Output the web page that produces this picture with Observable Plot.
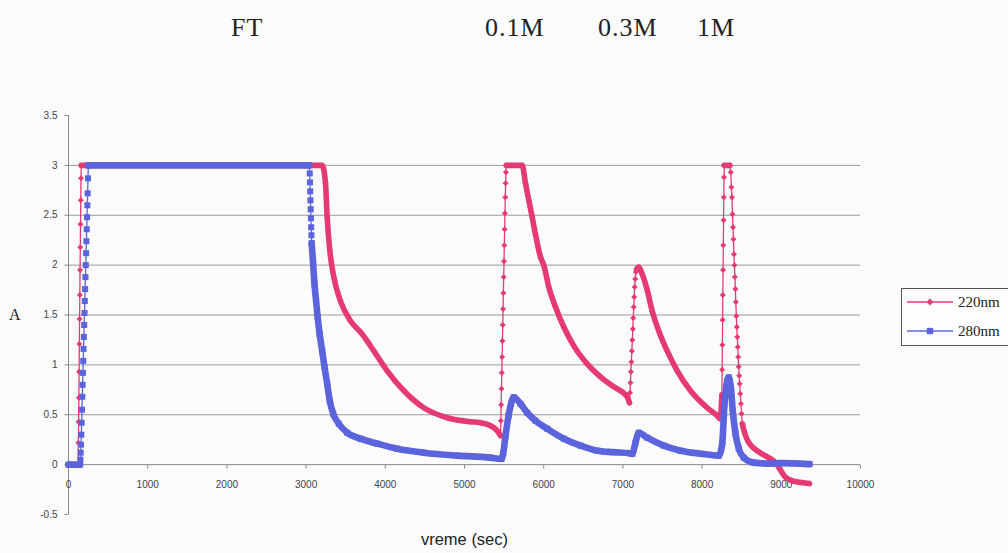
<!DOCTYPE html>
<html><head><meta charset="utf-8">
<script src="https://cdn.jsdelivr.net/npm/d3@7"></script>
<script src="https://cdn.jsdelivr.net/npm/@observablehq/plot@0.6"></script>
<style>
html,body{margin:0;padding:0;background:#fbfbfc;}
#wrap{position:relative;width:1008px;height:553px;overflow:hidden;background:#fbfbfc;}
#wrap svg{position:absolute;left:0;top:0;}
</style></head><body><div id="wrap"></div>
<script>
// ---------- data ----------
const seriesNames = ["220nm", "280nm"];

// 220nm (time in sec, absorbance)
const t220 = [0,122,
  125,128,131,134,137,140,143,146,149,152,155,158,162,
  3203,3245,3266,3299,3350,3434,3561,3708,3855,4024,4234,4486,4782,5076,5202,5328,5413,5455,
  5459,5463,5467,5471,5475,5479,5483,5487,5491,5495,5499,5503,5507,5511,5515,5519,5523,5527,
  5729,5770,5812,5855,5896,5960,6001,6064,6149,6254,6380,6549,6717,6885,7054,7083,
  7089,7095,7101,7107,7113,7119,7125,7131,7137,7143,7149,7156,7164,7174,7200,
  7244,7307,7370,7453,7559,7686,7854,8064,8191,8228,
  8250,8253,8256,8259,8262,8265,8268,8271,8274,8277,8280,
  8350,8362,8370,8377,8384,8390,8396,8402,8408,8414,8420,8426,8432,8438,8444,8450,8456,8462,8468,8475,8482,8490,8498,8508,
  8540,8590,8660,8750,8860,8930,8994,9045,9133,9258,9356];
const a220 = [0,0,
  0.22,0.43,0.67,0.93,1.21,1.46,1.70,1.95,2.18,2.41,2.65,2.87,3.0,
  3.0,2.82,2.48,2.15,1.88,1.64,1.44,1.31,1.14,0.94,0.74,0.57,0.47,0.43,0.42,0.39,0.34,0.29,
  0.44,0.60,0.76,0.92,1.08,1.24,1.40,1.56,1.72,1.88,2.04,2.20,2.36,2.52,2.68,2.82,2.93,3.0,
  3.0,2.82,2.65,2.48,2.31,2.08,2.0,1.78,1.58,1.38,1.19,1.01,0.88,0.78,0.68,0.62,
  0.72,0.82,0.93,1.03,1.14,1.25,1.36,1.47,1.58,1.68,1.78,1.86,1.93,1.96,1.98,
  1.91,1.75,1.54,1.34,1.14,0.94,0.74,0.57,0.49,0.46,
  0.70,0.95,1.20,1.45,1.70,1.95,2.20,2.45,2.68,2.88,3.0,
  3.0,2.93,2.78,2.68,2.51,2.38,2.26,2.11,2.0,1.88,1.76,1.63,1.49,1.38,1.28,1.18,1.08,0.98,0.89,0.81,0.71,0.61,0.51,0.41,
  0.31,0.22,0.16,0.11,0.06,0.02,-0.06,-0.12,-0.16,-0.18,-0.19];

// 280nm
const t280 = [0,146,
  150,154,158,162,166,170,174,178,182,186,190,194,198,202,206,210,214,218,222,226,230,234,238,242,246,250,
  3040,3046,3049,3052,3055,3058,3061,3064,3067,3070,
  3086,3106,3126,3146,3171,3203,3232,3266,3299,3342,3413,3519,3687,3898,4150,4486,4908,5328,5467,
  5490,5518,5556,5587,5622,5707,5792,5896,6044,6254,6465,6675,6881,7096,7118,
  7159,7201,7307,7516,7727,7980,8211,
  8254,8283,8317,8337,8367,8387,8422,8463,8526,8652,8864,8990,9356];
const a280 = [0,0,
  0.05,0.12,0.2,0.3,0.42,0.55,0.68,0.8,0.92,1.04,1.16,1.28,1.4,1.52,1.64,1.76,1.88,2.0,2.12,2.24,2.36,2.48,2.6,2.72,2.87,3.0,
  3.0,2.92,2.83,2.74,2.65,2.56,2.47,2.38,2.30,2.22,
  2.05,1.81,1.64,1.48,1.31,1.14,0.98,0.81,0.64,0.51,0.41,0.32,0.26,0.21,0.16,0.12,0.09,0.07,0.057,
  0.12,0.29,0.49,0.61,0.675,0.61,0.52,0.44,0.36,0.26,0.19,0.14,0.125,0.113,0.107,
  0.22,0.32,0.27,0.19,0.14,0.11,0.09,
  0.21,0.61,0.84,0.875,0.74,0.54,0.31,0.16,0.07,0.02,0.01,0.015,0.005];

const xTicks = [0,1000,2000,3000,4000,5000,6000,7000,8000,9000,10000];
const yTicks = [-0.5,0,0.5,1,1.5,2,2.5,3,3.5];
const yTickLabels = ["-0.5","0","0.5","1","1.5","2","2.5","3","3.5"];
const gridValues = [0.5,1,1.5,2,2.5,3];
const titleLabels = ["FT","0.1M","0.3M","1M"];
const xLabel = "vreme (sec)";
const yLabel = "A";

// ---------- styling ----------
const colors = {"220nm": "#e63a72", "280nm": "#5b64dd"};
const symbols = {"220nm": "diamond2", "280nm": "square"};
const markR = {"220nm": 2.7, "280nm": 3.4};
const bandW = {"220nm": 5.6, "280nm": 6.6};

function build(name, T, A) {
  const pts = T.map((t, i) => ({series: name, t, A: A[i]}));
  const band = [];
  let run = 0, open = false;
  for (let i = 1; i < pts.length; i++) {
    const dense = pts[i].t - pts[i - 1].t >= 15; // smooth part of the trace: markers overlap into a band
    if (dense) {
      if (!open) { run++; band.push({...pts[i - 1], run: name + run}); open = true; }
      band.push({...pts[i], run: name + run});
    } else open = false;
  }
  return {pts, band};
}
const S = {
  "220nm": build("220nm", t220, a220),
  "280nm": build("280nm", t280, a280)
};

const tickDown = {draw(ctx) { ctx.moveTo(0, 0); ctx.lineTo(0, 4); }};
const tickLeft = {draw(ctx) { ctx.moveTo(0, 0); ctx.lineTo(-4, 0); }};

function seriesMarks(name) {
  const c = colors[name], s = S[name];
  return [
    Plot.line(s.band, {x: "t", y: "A", z: "run", curve: "monotone-x", stroke: c, strokeWidth: bandW[name], strokeLinecap: "round", strokeLinejoin: "round"}),
    Plot.line(s.pts, {x: "t", y: "A", stroke: c, strokeWidth: 1.3}),
    Plot.dot(s.pts, {x: "t", y: "A", symbol: symbols[name], r: markR[name], fill: c, stroke: "none"})
  ];
}

const chart = Plot.plot({
  width: 1008, height: 553,
  marginLeft: 68, marginRight: 148, marginTop: 115, marginBottom: 39,
  x: {domain: [0, 10000], axis: null},
  y: {domain: [-0.5, 3.5], axis: null},
  style: {background: "transparent", overflow: "visible"},
  marks: [
    Plot.ruleY(gridValues, {stroke: "#9a9a9a", strokeWidth: 1}),
    Plot.ruleY([0], {stroke: "#8a8a8a", strokeWidth: 1}),
    Plot.ruleX([0], {stroke: "#8a8a8a", strokeWidth: 1}),
    Plot.dot(xTicks, {x: d => d, y: () => 0, symbol: tickDown, stroke: "#8a8a8a", fill: "none", strokeWidth: 1}),
    Plot.dot(yTicks, {x: () => 0, y: d => d, symbol: tickLeft, stroke: "#8a8a8a", fill: "none", strokeWidth: 1}),
    Plot.text(xTicks, {x: d => d, y: () => 0, text: d => String(d), dy: 20, fontSize: 10, fill: "#444", fontFamily: "Liberation Sans"}),
    Plot.text(yTicks, {x: () => 0, y: d => d, text: (d, i) => yTickLabels[i], dx: -11, textAnchor: "end", fontSize: 10, fill: "#444", fontFamily: "Liberation Sans"}),
    Plot.text([xLabel], {frameAnchor: "bottom", dy: 30, fontSize: 16.5, fill: "#222", fontFamily: "Liberation Sans"}),
    ...seriesMarks("220nm"),
    ...seriesMarks("280nm")
  ]
});
const wrap = document.getElementById("wrap");
wrap.appendChild(chart);

// ---------- titles, axis letter, legend ----------
const ov = d3.select(wrap).append("svg").attr("width", 1008).attr("height", 553)
  .style("font-family", "'Liberation Serif', serif");
const titleX = [231, 485, 598, 697];
titleLabels.forEach((s, i) => {
  ov.append("text").attr("x", titleX[i]).attr("y", 36).attr("font-size", 26).attr("letter-spacing", 1).attr("fill", "#222").text(s);
});
ov.append("text").attr("x", 9).attr("y", 320).attr("font-size", 16).attr("fill", "#222").text(yLabel);

const lg = ov.append("g");
lg.append("rect").attr("x", 901.5).attr("y", 288.5).attr("width", 140).attr("height", 57).attr("fill", "#fdfdfd").attr("stroke", "#555");
seriesNames.forEach((n, i) => {
  const y = 302 + i * 29;
  lg.append("line").attr("x1", 907).attr("x2", 953).attr("y1", y).attr("y2", y).attr("stroke", colors[n]).attr("stroke-width", 1.5);
  const sym = d3.symbol().type(n === "220nm" ? d3.symbolDiamond2 : d3.symbolSquare).size(n === "220nm" ? 30 : 40);
  lg.append("path").attr("d", sym()).attr("transform", `translate(930,${y})`).attr("fill", colors[n]);
  lg.append("text").attr("x", 958).attr("y", y + 5).attr("font-size", 15).attr("fill", "#222").text(n);
});
</script>
</body></html>
